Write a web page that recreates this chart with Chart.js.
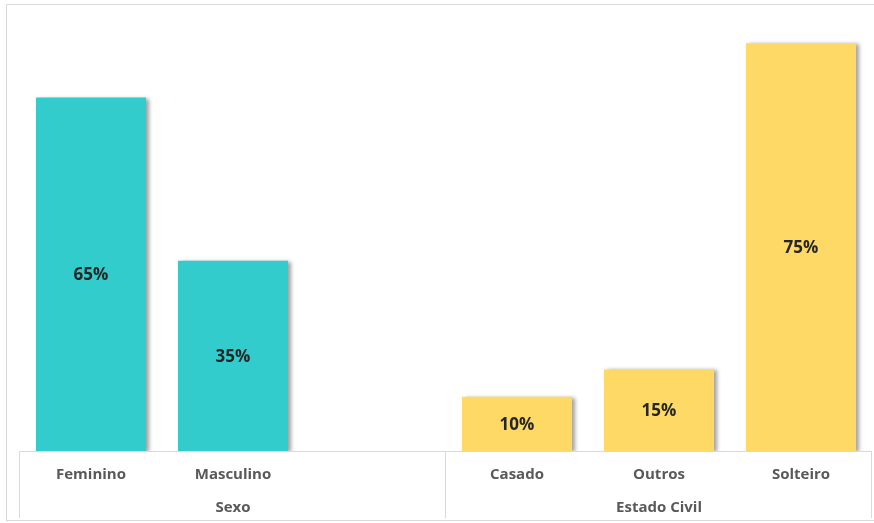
<!DOCTYPE html>
<html>
<head>
<meta charset="utf-8">
<script src="https://cdn.jsdelivr.net/npm/chart.js@4"></script>
<style>
  html, body { margin: 0; padding: 0; background: #ffffff; }
  #wrap { width: 874px; height: 523px; position: relative; }
</style>
</head>
<body>
<div id="wrap"><canvas id="c" width="874" height="523"></canvas></div>
<script>
// Categories along the x axis (the empty slot separates the two groups)
const categories = ['Feminino', 'Masculino', '', 'Casado', 'Outros', 'Solteiro'];
// Percentage for each category
const values = [65, 35, null, 10, 15, 75];
// Group labels on the second axis row and how many categories each covers
const groupNames = ['Sexo', 'Estado Civil'];
const groupSpans = [3, 3];
const groupColors = ['#33CCCC', '#FFD966'];

// Bar colour follows the group a category belongs to
const barColors = [];
groupSpans.forEach((span, g) => { for (let i = 0; i < span; i++) barColors.push(groupColors[g]); });

const labelFont = 'bold 15px "Open Sans", "Liberation Sans", sans-serif';

// Soft drop shadow behind the bars
const barShadow = {
  id: 'barShadow',
  beforeDatasetsDraw(chart) {
    const ctx = chart.ctx;
    ctx.save();
    ctx.shadowColor = 'rgba(0,0,0,0.38)';
    ctx.shadowBlur = 4;
    ctx.shadowOffsetX = 3;
    ctx.shadowOffsetY = 1;
  },
  afterDatasetsDraw(chart) {
    chart.ctx.restore();
  }
};

// Percent labels centred inside each bar
const valueLabels = {
  id: 'valueLabels',
  afterDatasetsDraw(chart) {
    const ctx = chart.ctx;
    const meta = chart.getDatasetMeta(0);
    ctx.save();
    ctx.font = 'bold 17px "Open Sans", "Liberation Sans", sans-serif';
    ctx.fillStyle = '#262626';
    ctx.textAlign = 'center';
    ctx.textBaseline = 'middle';
    meta.data.forEach((bar, i) => {
      const v = chart.data.datasets[0].data[i];
      if (v == null) return;
      ctx.fillText(v + '%', bar.x, (bar.y + bar.base) / 2 + 1);
    });
    ctx.restore();
  }
};

// Two-row category axis with group separators and the outer frame
const groupedAxis = {
  id: 'groupedAxis',
  afterDraw(chart) {
    const ctx = chart.ctx;
    const area = chart.chartArea;
    const x = chart.scales.x;
    const n = categories.length;
    const slot = (area.right - area.left) / n;
    const left = area.left - 0.5;
    const base = area.bottom + 0.5;
    ctx.save();
    // outer frame
    ctx.strokeStyle = '#d9d9d9';
    ctx.lineWidth = 1;
    ctx.beginPath();
    ctx.moveTo(6.5, 521.5); ctx.lineTo(6.5, 4.5); ctx.lineTo(874, 4.5);
    ctx.moveTo(6.5, 520.5); ctx.lineTo(874, 520.5);
    ctx.stroke();
    // axis line and group dividers
    ctx.strokeStyle = '#d9d9d9';
    ctx.beginPath();
    ctx.moveTo(left, base); ctx.lineTo(area.right, base);
    let idx = 0;
    const bounds = [0];
    groupSpans.forEach(s => { idx += s; bounds.push(idx); });
    bounds.forEach(b => {
      const bx = Math.round(area.left + b * slot) - 0.5;
      ctx.moveTo(bx, base); ctx.lineTo(bx, area.bottom + 67);
    });
    ctx.stroke();
    // category labels
    ctx.font = labelFont;
    ctx.fillStyle = '#595959';
    ctx.textAlign = 'center';
    ctx.textBaseline = 'middle';
    categories.forEach((c, i) => {
      if (c) ctx.fillText(c, x.getPixelForValue(i), area.bottom + 24);
    });
    // group labels
    let start = 0;
    groupNames.forEach((g, k) => {
      const end = start + groupSpans[k];
      const cx = area.left + (start + end) / 2 * slot;
      ctx.fillText(g, cx, area.bottom + 57);
      start = end;
    });
    ctx.restore();
  }
};

new Chart(document.getElementById('c'), {
  type: 'bar',
  data: {
    labels: categories,
    datasets: [{
      data: values,
      backgroundColor: barColors,
      borderWidth: 0,
      barPercentage: 1,
      categoryPercentage: 0.775
    }]
  },
  options: {
    responsive: false,
    animation: false,
    devicePixelRatio: 1,
    layout: { padding: { left: 20, right: 2, top: 16, bottom: 72 } },
    plugins: { legend: { display: false }, tooltip: { enabled: false } },
    scales: {
      x: { display: false },
      y: { display: false, min: 0, max: 80 }
    }
  },
  plugins: [barShadow, valueLabels, groupedAxis]
});
</script>
</body>
</html>
